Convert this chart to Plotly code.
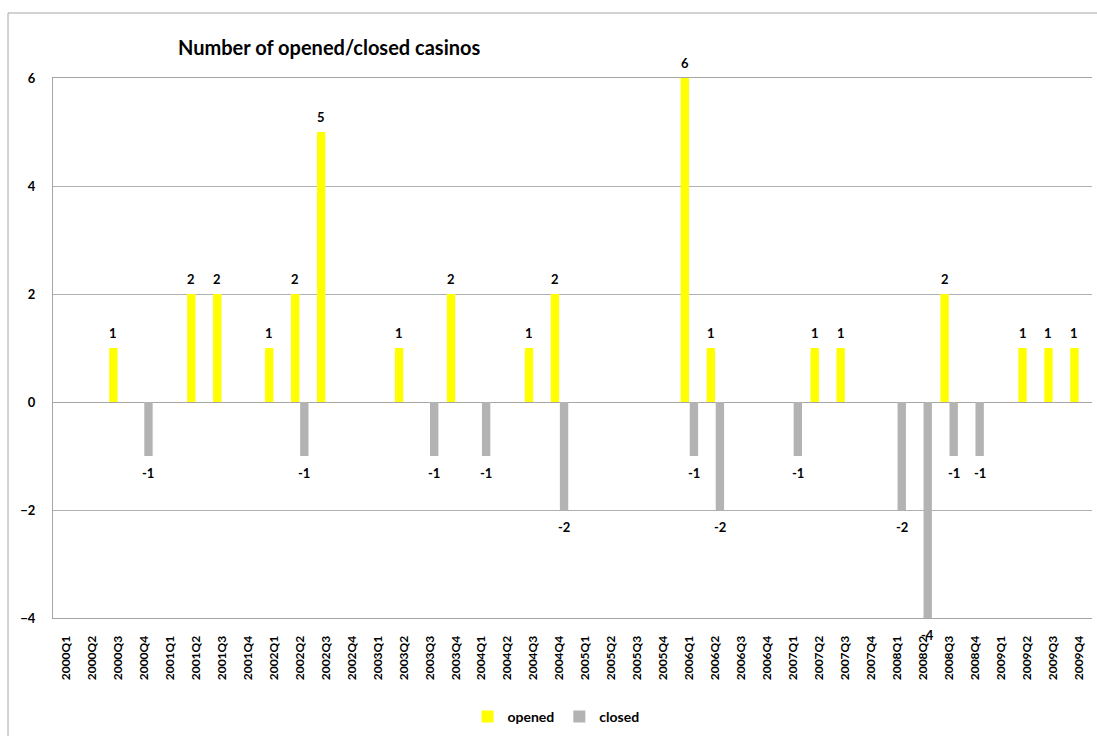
import plotly.graph_objects as go

quarters = [f"{y}Q{q}" for y in range(2000, 2010) for q in range(1, 5)]

opened_map = {"2000Q3": 1, "2001Q2": 2, "2001Q3": 2, "2002Q1": 1, "2002Q2": 2, "2002Q3": 5,
              "2003Q2": 1, "2003Q4": 2, "2004Q3": 1, "2004Q4": 2, "2006Q1": 6, "2006Q2": 1,
              "2007Q2": 1, "2007Q3": 1, "2008Q3": 2, "2009Q2": 1, "2009Q3": 1, "2009Q4": 1}
closed_map = {"2000Q4": -1, "2002Q2": -1, "2003Q3": -1, "2004Q1": -1, "2004Q4": -2, "2006Q1": -1,
              "2006Q2": -2, "2007Q1": -1, "2008Q1": -2, "2008Q2": -4, "2008Q3": -1, "2008Q4": -1}

opened = [opened_map.get(q) for q in quarters]
closed = [closed_map.get(q) for q in quarters]

FONT = "Lato"
label_font = dict(family=FONT, size=13, color="black", weight="bold")

fig = go.Figure()
fig.add_trace(go.Bar(x=quarters, y=opened, name="opened", marker=dict(color="#FFFF00", line=dict(width=0)),
                     cliponaxis=False))
fig.add_trace(go.Bar(x=quarters, y=closed, name="closed", marker=dict(color="#B3B3B3", line=dict(width=0)),
                     cliponaxis=False))

W, H = 1097, 736
L, R, T, B = 53, 5, 78, 118
pw, ph = W - L - R, H - T - B

def px(x):
    return (x - L) / pw

def py(y):
    return (H - B - y) / ph

# data labels (offset to sit over each bar of the group)
cat_w = pw / len(quarters)
off = cat_w * 0.7 / 4
for q, v in zip(quarters, opened):
    if v is not None:
        fig.add_annotation(x=q, y=v, text=str(v), showarrow=False, xshift=-off, yshift=15,
                           yanchor="middle", font=label_font)
for q, v in zip(quarters, closed):
    if v is not None:
        fig.add_annotation(x=q, y=v, text=str(v), showarrow=False, xshift=off, yshift=-17,
                           yanchor="middle", font=label_font)

fig.update_layout(
    width=W, height=H,
    margin=dict(l=L, r=R, t=T, b=B, autoexpand=False),
    paper_bgcolor="white", plot_bgcolor="white",
    barmode="group", bargap=0.3, bargroupgap=0.08,
    title=dict(text="Number of opened/closed casinos", x=px(178), xref="paper", xanchor="left",
               y=1 - 48 / H, yref="container", yanchor="middle",
               font=dict(family=FONT, size=20, color="black", weight="bold")),
    showlegend=True,
    legend=dict(orientation="h", x=px(556), xanchor="center", y=py(717), yanchor="middle",
                font=dict(family=FONT, size=14, color="black", weight="bold"),
                itemwidth=30, traceorder="normal"),
    font=dict(family=FONT),
)
fig.update_xaxes(type="category", tickangle=-90, showgrid=False,
                 showline=True, mirror=True, linecolor="#A6A6A6", linewidth=1, ticks="",
                 tickfont=dict(family=FONT, size=12, color="black", weight="bold"),
                 ticklabelstandoff=12, fixedrange=True)
fig.update_yaxes(range=[-4, 6], dtick=2, tick0=0, showgrid=True, gridcolor="#B0B0B0", gridwidth=1,
                 zeroline=True, zerolinecolor="#A6A6A6", zerolinewidth=1,
                 showline=True, linecolor="#A6A6A6", linewidth=1, ticks="",
                 tickfont=dict(family=FONT, size=13, color="black", weight="bold"),
                 ticklabelstandoff=14, fixedrange=True)

# outer chart border
fig.add_shape(type="rect", xref="paper", yref="paper", x0=px(8), x1=px(1110), y0=py(760), y1=py(13),
              line=dict(color="#A6A6A6", width=1), fillcolor="rgba(0,0,0,0)", layer="below")

fig.write_html("out.html")
